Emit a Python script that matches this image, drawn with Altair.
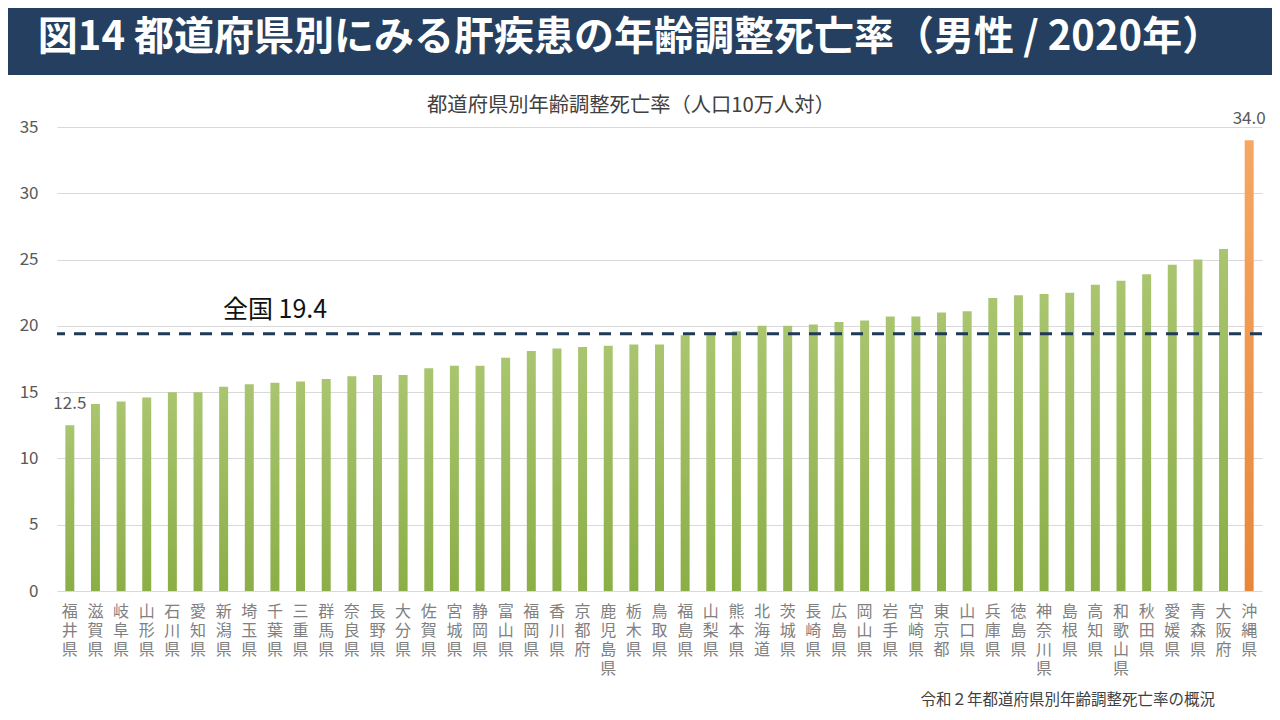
import altair as alt
import pandas as pd

prefectures = ["福井県", "滋賀県", "岐阜県", "山形県", "石川県", "愛知県", "新潟県", "埼玉県",
               "千葉県", "三重県", "群馬県", "奈良県", "長野県", "大分県", "佐賀県", "宮城県",
               "静岡県", "富山県", "福岡県", "香川県", "京都府", "鹿児島県", "栃木県", "鳥取県",
               "福島県", "山梨県", "熊本県", "北海道", "茨城県", "長崎県", "広島県", "岡山県",
               "岩手県", "宮崎県", "東京都", "山口県", "兵庫県", "徳島県", "神奈川県", "島根県",
               "高知県", "和歌山県", "秋田県", "愛媛県", "青森県", "大阪府", "沖縄県"]
rates = [12.5, 14.1, 14.3, 14.6, 15.0, 15.0, 15.4, 15.6,
         15.7, 15.8, 16.0, 16.2, 16.3, 16.3, 16.8, 17.0,
         17.0, 17.6, 18.1, 18.3, 18.4, 18.5, 18.6, 18.6,
         19.3, 19.5, 19.6, 20.0, 20.0, 20.1, 20.3, 20.4,
         20.7, 20.7, 21.0, 21.1, 22.1, 22.3, 22.4, 22.5,
         23.1, 23.4, 23.9, 24.6, 25.0, 25.8, 34.0]
highlight = ["沖縄県"]
labeled = ["福井県", "沖縄県"]
national_avg = 19.4
national_label = "全国 19.4"
y_ticks = [0, 5, 10, 15, 20, 25, 30, 35]

title_text = "図14 都道府県別にみる肝疾患の年齢調整死亡率（男性 / 2020年）"
subtitle_text = "都道府県別年齢調整死亡率（人口10万人対）"
source_text = "令和２年都道府県別年齢調整死亡率の概況"

FONT = "Noto Sans CJK JP"
W, H = 1205, 464
PAD_L, PAD_T = 49, 119
TOTAL_W, TOTAL_H = 1264, 704

df = pd.DataFrame({
    "pref": prefectures,
    "rate": rates,
    "hl": [p in highlight for p in prefectures],
    "lab": [p in labeled for p in prefectures],
})

x_enc = alt.X("pref:N", sort=None,
              scale=alt.Scale(paddingInner=0.65, paddingOuter=0.325),
              axis=alt.Axis(title=None, labelAngle=0, labelExpr="split(datum.label, '')",
                            labelFontSize=16, labelLineHeight=19, labelColor="#808080",
                            labelFont=FONT, labelPadding=12, ticks=False, domain=False,
                            labelBaseline="top", labelOverlap=False))
y_enc = alt.Y("rate:Q", scale=alt.Scale(domain=[0, 35], nice=False),
              axis=alt.Axis(title=None, values=y_ticks, ticks=False, domain=False,
                            labelFontSize=17, labelColor="#595959", labelFont=FONT,
                            labelPadding=19, gridColor="#d9d9d9", gridWidth=1))

green = alt.Gradient(gradient="linear", x1=0, x2=0, y1=0, y2=1,
                     stops=[alt.GradientStop(color="#a9c56f", offset=0),
                            alt.GradientStop(color="#8bae47", offset=1)])
orange = alt.Gradient(gradient="linear", x1=0, x2=0, y1=0, y2=1,
                      stops=[alt.GradientStop(color="#f6a763", offset=0),
                             alt.GradientStop(color="#e8873a", offset=1)])

base = alt.Chart(df)

bars_green = base.transform_filter("!datum.hl").mark_bar(color=green).encode(x=x_enc, y=y_enc)
bars_orange = base.transform_filter("datum.hl").mark_bar(color=orange).encode(x=x_enc, y=y_enc)

value_labels = base.transform_filter("datum.lab").mark_text(
    font=FONT, fontSize=17, color="#595959", baseline="middle", dy=-21
).encode(x=x_enc, y=y_enc, text=alt.Text("rate:Q", format=".1f"))

avg_df = pd.DataFrame({"v": [national_avg], "t": [national_label]})
avg_rule = alt.Chart(avg_df).mark_rule(color="#1f3a56", strokeWidth=3, strokeDash=[12, 9]).encode(
    y=alt.Y("v:Q", scale=alt.Scale(domain=[0, 35], nice=False))
)
avg_text = alt.Chart(avg_df).mark_text(font=FONT, fontSize=25, color="#111111",
                                       align="center", baseline="middle", dy=-24).encode(
    x=alt.value(218), y=alt.Y("v:Q", scale=alt.Scale(domain=[0, 35], nice=False)), text="t:N"
)

text_df = pd.DataFrame({"title": [title_text], "sub": [subtitle_text], "src": [source_text]})
banner = alt.Chart(text_df).mark_rect(color="#243f60").encode(
    x=alt.value(-PAD_L), x2=alt.value(TOTAL_W - PAD_L),
    y=alt.value(-PAD_T), y2=alt.value(-PAD_T + 67)
)
banner_text = alt.Chart(text_df).mark_text(font=FONT, fontSize=40, fontWeight="bold",
                                           color="white", align="center", baseline="middle").encode(
    x=alt.value(573), y=alt.value(-PAD_T + 30), text="title:N"
)
sub_text = alt.Chart(text_df).mark_text(font=FONT, fontSize=20.3, color="#404040",
                                        align="center", baseline="middle").encode(
    x=alt.value(574), y=alt.value(-21), text="sub:N"
)
src_text = alt.Chart(text_df).mark_text(font=FONT, fontSize=15.5, color="#404040",
                                        align="right", baseline="middle").encode(
    x=alt.value(1158), y=alt.value(573), text="src:N"
)

chart = alt.layer(
    banner, banner_text, sub_text, bars_green, bars_orange, value_labels,
    avg_rule, avg_text, src_text
).properties(
    width=W, height=H,
    autosize=alt.AutoSizeParams(type="none"),
    padding={"left": PAD_L, "top": PAD_T, "right": TOTAL_W - PAD_L - W, "bottom": TOTAL_H - PAD_T - H},
    background="white",
).configure_view(strokeWidth=0)

chart.save("out.html", embed_options={"renderer": "svg", "actions": False})
